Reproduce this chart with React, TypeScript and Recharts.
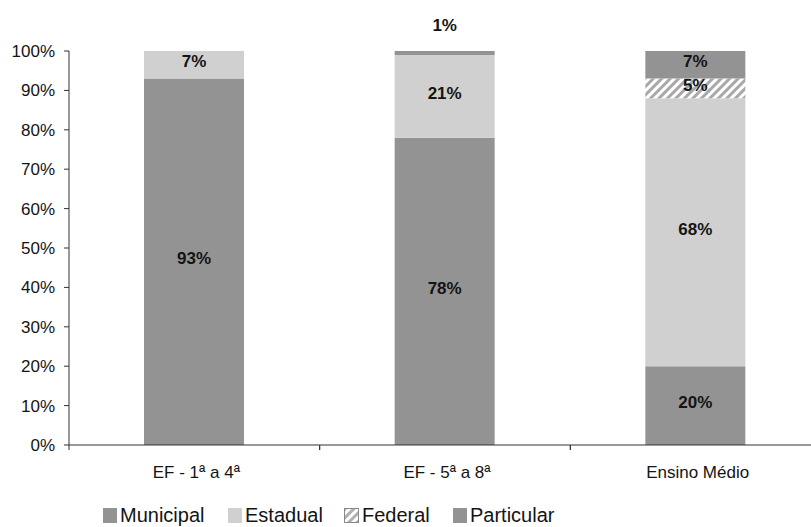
import React from 'react';
import { BarChart, Bar, XAxis, YAxis, LabelList } from 'recharts';

// shares by school network (%)
const categories = ['EF - 1ª a 4ª', 'EF - 5ª a 8ª', 'Ensino Médio'];
const municipal = [93, 78, 20];
const estadual = [7, 21, 68];
const federal = [0, 0, 5];
const particular = [0, 1, 7];
const yTicks = [0, 10, 20, 30, 40, 50, 60, 70, 80, 90, 100];
const seriesNames = ['Municipal', 'Estadual', 'Federal', 'Particular'];

const data = categories.map((name, i) => ({
  name,
  Municipal: municipal[i],
  Estadual: estadual[i],
  Federal: federal[i],
  Particular: particular[i],
}));

const FONT = 'Arial, "Liberation Sans", sans-serif';
const DARK = '#141414';
const GRAY = '#939393';
const LIGHT = '#d0d0d0';

const CHART_W = 830;
const CHART_H = 527;
const MARGIN = { top: 51, right: 9, bottom: 52, left: 0 };
const Y_W = 69;
const BAND = (CHART_W - MARGIN.left - MARGIN.right - Y_W) / categories.length;

// small nudges for crowded labels at the top of the last bar
const labelShift: Record<string, number> = { 'Federal-2': -4, 'Particular-2': -2 };

const makeLabel = (series: string) => (props: any) => {
  const { x, y, width, height, value, index } = props;
  if (!value) return null;
  const cx = Number(x) + Number(width) / 2;
  let cy = Number(y) + Number(height) / 2 - 3 + (labelShift[`${series}-${index}`] || 0);
  if (Number(height) < 10) cy = Number(y) - 26;
  return (
    <text
      x={cx}
      y={cy}
      textAnchor="middle"
      dominantBaseline="central"
      fontFamily={FONT}
      fontSize={17}
      fontWeight="bold"
      fill={DARK}
    >
      {`${value}%`}
    </text>
  );
};

const XTick = (props: any) => {
  const { x, y, payload } = props;
  const left = x - BAND / 2;
  return (
    <g>
      <line x1={left} x2={left} y1={y} y2={y + 5} stroke="#333" />
      <line x1={left + BAND} x2={left + BAND} y1={y} y2={y + 5} stroke="#333" />
      <text x={x + 2} y={y + 33} textAnchor="middle" fontFamily={FONT} fontSize={17} fill={DARK}>
        {payload.value}
      </text>
    </g>
  );
};

const legendLeft = [103, 228, 344, 453];

const LegendIcon = ({ name }: { name: string }) => {
  if (name === 'Federal') {
    return (
      <svg width={15} height={15} style={{ marginRight: 3 }}>
        <defs>
          <pattern id="hatchLegend" width="6" height="6" patternUnits="userSpaceOnUse" patternTransform="rotate(45)">
            <rect width="6" height="6" fill="#fff" />
            <rect width="3" height="6" fill="#b0b0b0" />
          </pattern>
        </defs>
        <rect x={0.5} y={0.5} width={14} height={14} fill="url(#hatchLegend)" stroke="#888" />
      </svg>
    );
  }
  return (
    <div
      style={{ width: 14, height: 15, marginRight: 3, background: name === 'Estadual' ? LIGHT : GRAY }}
    />
  );
};

export default function App() {
  return (
    <div
      style={{
        position: 'absolute',
        left: 0,
        top: 0,
        width: 811,
        height: 527,
        overflow: 'hidden',
        background: '#fff',
        fontFamily: FONT,
      }}
    >
      <BarChart width={CHART_W} height={CHART_H} data={data} margin={MARGIN} barSize={100}>
        <defs>
          <pattern id="hatch" width="6" height="6" patternUnits="userSpaceOnUse" patternTransform="rotate(45)">
            <rect width="6" height="6" fill="#fff" />
            <rect width="3" height="6" fill="#a8a8a8" />
          </pattern>
        </defs>
        <XAxis
          dataKey="name"
          height={30}
          tickSize={0}
          tickMargin={0}
          tickLine={false}
          axisLine={{ stroke: '#333' }}
          tick={<XTick />}
          interval={0}
        />
        <YAxis
          width={Y_W}
          domain={[0, 100]}
          ticks={yTicks}
          tickFormatter={(v: number) => `${v}%`}
          tickSize={5}
          tickMargin={9}
          axisLine={{ stroke: '#333' }}
          tickLine={{ stroke: '#333' }}
          tick={{ fill: DARK, fontSize: 17, fontFamily: FONT }}
        />
        <Bar dataKey="Municipal" stackId="a" fill={GRAY} isAnimationActive={false}>
          <LabelList dataKey="Municipal" content={makeLabel('Municipal')} />
        </Bar>
        <Bar dataKey="Estadual" stackId="a" fill={LIGHT} isAnimationActive={false}>
          <LabelList dataKey="Estadual" content={makeLabel('Estadual')} />
        </Bar>
        <Bar dataKey="Federal" stackId="a" fill="url(#hatch)" isAnimationActive={false}>
          <LabelList dataKey="Federal" content={makeLabel('Federal')} />
        </Bar>
        <Bar dataKey="Particular" stackId="a" fill={GRAY} isAnimationActive={false}>
          <LabelList dataKey="Particular" content={makeLabel('Particular')} />
        </Bar>
      </BarChart>
      {seriesNames.map((name, i) => (
        <div
          key={name}
          style={{
            position: 'absolute',
            left: legendLeft[i],
            top: 503,
            display: 'flex',
            alignItems: 'center',
            fontSize: 20,
            lineHeight: '24px',
            color: DARK,
          }}
        >
          <LegendIcon name={name} />
          <span>{name}</span>
        </div>
      ))}
    </div>
  );
}
